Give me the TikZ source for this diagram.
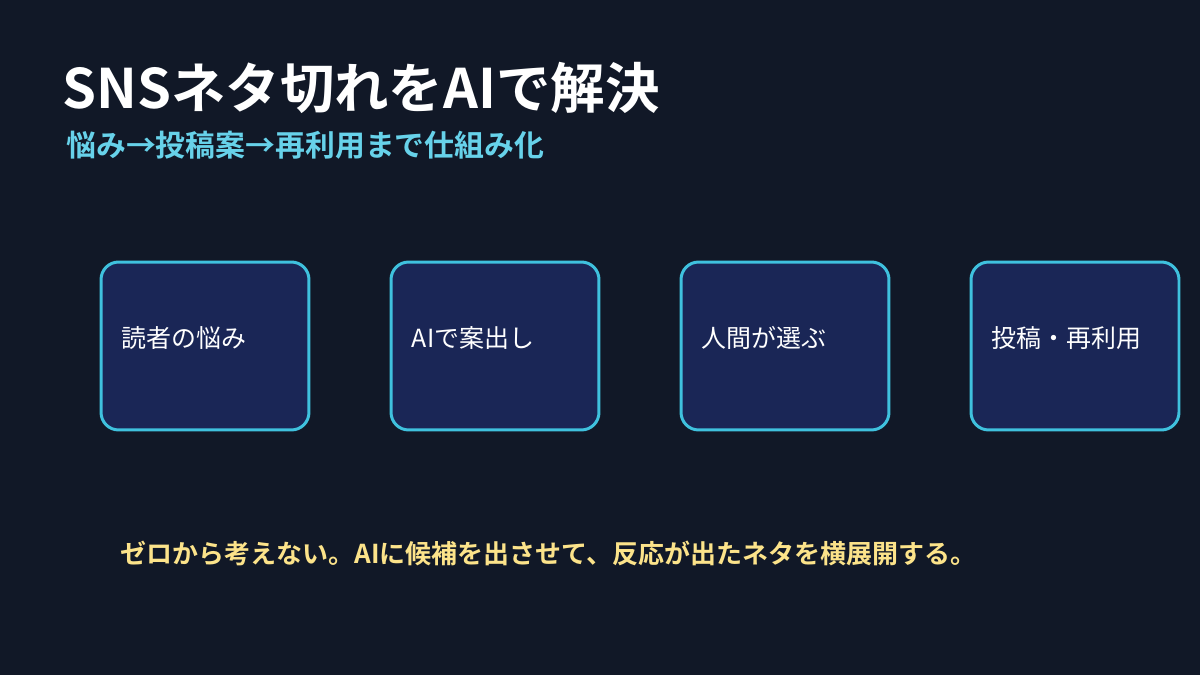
\documentclass[tikz,border=0pt]{standalone}
\usepackage{fontspec}
\setmainfont{Noto Sans CJK JP}
\newfontfamily\jpbold{Noto Sans CJK JP Bold}
\definecolor{bgnavy}{HTML}{111827}
\definecolor{boxfill}{HTML}{1A2656}
\definecolor{boxline}{HTML}{3FC1DE}
\definecolor{subcyan}{HTML}{67D2EA}
\definecolor{noteyellow}{HTML}{FCE38A}
\tikzset{
  stepbox/.style={draw=boxline, fill=boxfill, line width=1.7pt, rounded corners=10pt,
    minimum width=4.16cm, minimum height=3.36cm},
  steptext/.style={anchor=west, text=white, font=\fontsize{14.2}{17}\selectfont, inner sep=0pt}
}
\begin{document}
\begin{tikzpicture}[x=0.02cm,y=-0.02cm]
\fill[bgnavy] (0,0) rectangle (1200,675);
\useasboundingbox (0,0) rectangle (1200,675);
\node(title) at (62,88) [anchor=west, text=white, inner sep=0pt, font=\jpbold\fontsize{31}{36}\selectfont]{SNSネタ切れをAIで解決};
\node(sub) at (66,145) [anchor=west, text=subcyan, inner sep=0pt, font=\jpbold\fontsize{17}{20}\selectfont]{悩み→投稿案→再利用まで仕組み化};

\node(reader) at (205,346) [stepbox]{};
\node(idea) at (495,346) [stepbox]{};
\node(pick) at (785,346) [stepbox]{};
\node(post) at (1075,346) [stepbox]{};

\node(readertext) at ([xshift=22*0.02cm,yshift=8*0.02cm]reader.west) [steptext]{読者の悩み};
\node(ideatext) at ([xshift=22*0.02cm,yshift=8*0.02cm]idea.west) [steptext]{AIで案出し};
\node(picktext) at ([xshift=22*0.02cm,yshift=8*0.02cm]pick.west) [steptext]{人間が選ぶ};
\node(posttext) at ([xshift=22*0.02cm,yshift=8*0.02cm]post.west) [steptext]{投稿・再利用};

\node(note) at (120,553) [anchor=west, text=noteyellow, inner sep=0pt, font=\jpbold\fontsize{14.8}{18}\selectfont]{ゼロから考えない。AIに候補を出させて、反応が出たネタを横展開する。};
\end{tikzpicture}
\end{document}
